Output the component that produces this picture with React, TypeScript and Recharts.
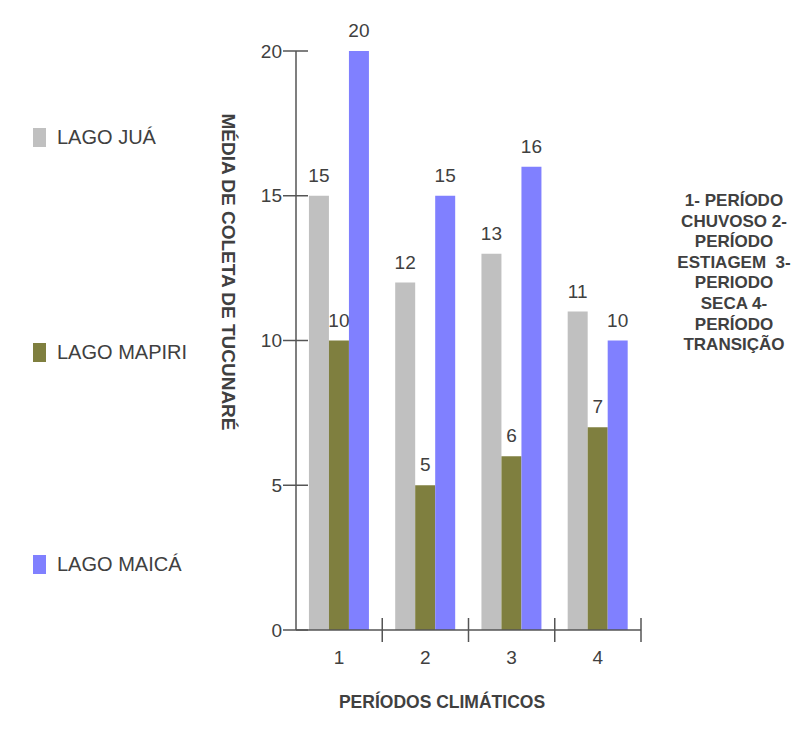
import React from 'react';
import { BarChart, Bar, XAxis, YAxis, LabelList, Legend } from 'recharts';

const categories = ['1', '2', '3', '4'];
const lagoJua = [15, 12, 13, 11];
const lagoMapiri = [10, 5, 6, 7];
const lagoMaica = [20, 15, 16, 10];
const yTicks = [0, 5, 10, 15, 20];
const seriesNames = ['LAGO JUÁ', 'LAGO MAPIRI', 'LAGO MAICÁ'];
const seriesKeys = ['jua', 'mapiri', 'maica'];
const seriesColors = ['#C0C0C0', '#7F7F3F', '#8080FF'];
const noteLines = ['1- PERÍODO', 'CHUVOSO 2-', 'PERÍODO', 'ESTIAGEM  3-', 'PERIODO', 'SECA 4-', 'PERÍODO', 'TRANSIÇÃO'];
const yTitle = 'MÉDIA DE COLETA DE TUCUNARÉ';
const xTitle = 'PERÍODOS CLIMÁTICOS';

const data = categories.map((c, i) => ({
  cat: c,
  jua: lagoJua[i],
  mapiri: lagoMapiri[i],
  maica: lagoMaica[i],
}));

const TEXT = '#404040';
const AXIS = '#555555';
const FONT = '"Liberation Sans", Arial, sans-serif';

const YTick = (props: any) => {
  const { x, y, payload } = props;
  return (
    <g>
      <line x1={x - 13} x2={x + 12} y1={y} y2={y} stroke={AXIS} strokeWidth={1.5} />
      <text x={x - 14} y={y} textAnchor="end" dominantBaseline="central" fill={TEXT} fontSize={19} fontFamily={FONT}>
        {payload.value}
      </text>
    </g>
  );
};

const XTick = (props: any) => {
  const { x, y, payload } = props;
  const half = payload.offset || 43;
  return (
    <g>
      <line x1={x + half} x2={x + half} y1={y - 12} y2={y + 12} stroke={AXIS} strokeWidth={1.5} />
      <text x={x} y={y + 27} textAnchor="middle" dominantBaseline="central" fill={TEXT} fontSize={19} fontFamily={FONT}>
        {payload.value}
      </text>
    </g>
  );
};

const legendTops = [128, 343, 555];

const LegendContent = () => (
  <div style={{ position: 'relative', width: 220, height: 731 }}>
    {seriesNames.map((n, i) => (
      <div key={n} style={{ position: 'absolute', left: 0, top: legendTops[i], height: 19, width: 220 }}>
        <div style={{ position: 'absolute', left: 33, top: 0, width: 13, height: 19, background: seriesColors[i] }} />
        <div style={{ position: 'absolute', left: 57, top: 0, lineHeight: '19px', fontSize: 20, color: TEXT, fontFamily: FONT, whiteSpace: 'nowrap' }}>
          {n}
        </div>
      </div>
    ))}
  </div>
);

export default function App() {
  return (
    <div style={{ position: 'absolute', left: 0, top: 0, width: 811, height: 731, background: '#fff' }}>
      <BarChart
        width={811}
        height={731}
        data={data}
        margin={{ top: 51, right: 170, bottom: 71, left: 236 }}
        barCategoryGap="15%"
        barGap={0}
      >
        <XAxis
          dataKey="cat"
          height={30}
          tickSize={0}
          tickMargin={0}
          tickLine={false}
          axisLine={{ stroke: AXIS, strokeWidth: 1.5 }}
          tick={<XTick />}
        />
        <YAxis
          width={60}
          domain={[0, 20]}
          ticks={yTicks}
          tickSize={0}
          tickMargin={0}
          tickLine={false}
          axisLine={{ stroke: AXIS, strokeWidth: 1.5 }}
          tick={<YTick />}
        />
        <Legend
          layout="vertical"
          align="center"
          verticalAlign="middle"
          wrapperStyle={{ position: 'absolute', left: 0, top: 0, width: 220, height: 731 }}
          content={<LegendContent />}
        />
        {seriesKeys.map((k, i) => (
          <Bar key={k} dataKey={k} name={seriesNames[i]} fill={seriesColors[i]} isAnimationActive={false}>
            <LabelList dataKey={k} position="top" offset={14} fill={TEXT} fontSize={19} fontFamily={FONT} />
          </Bar>
        ))}
      </BarChart>
      <div
        style={{
          position: 'absolute',
          left: 228,
          top: 272,
          transform: 'translate(-50%, -50%) rotate(90deg)',
          whiteSpace: 'nowrap',
          fontFamily: FONT,
          fontWeight: 'bold',
          fontSize: 19,
          color: TEXT,
        }}
      >
        {yTitle}
      </div>
      <div
        style={{
          position: 'absolute',
          left: 442,
          top: 702,
          transform: 'translate(-50%, -50%)',
          whiteSpace: 'nowrap',
          fontFamily: FONT,
          fontWeight: 'bold',
          fontSize: 17.5,
          color: TEXT,
        }}
      >
        {xTitle}
      </div>
      <div
        style={{
          position: 'absolute',
          left: 734,
          top: 191,
          transform: 'translateX(-50%)',
          textAlign: 'center',
          fontFamily: FONT,
          fontWeight: 'bold',
          fontSize: 17,
          lineHeight: '20.6px',
          color: TEXT,
          whiteSpace: 'pre',
        }}
      >
        {noteLines.map((l, i) => (
          <div key={i}>{l}</div>
        ))}
      </div>
    </div>
  );
}
